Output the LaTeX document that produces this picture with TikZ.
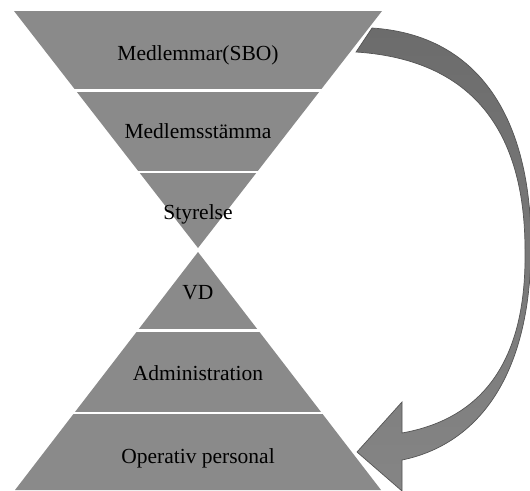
\documentclass[tikz,border=0pt]{standalone}
\usepackage{fontspec}
\setmainfont{Liberation Serif}
\definecolor{pyr}{HTML}{8A8A8A}
\definecolor{pilmork}{HTML}{6C6C6C}
\definecolor{pilljus}{HTML}{858585}
\definecolor{pilkant}{HTML}{555555}
\tikzset{
  skarv/.style={white,line width=2.5pt},
  etikett/.style={anchor=base,text=black,font=\fontsize{21.5}{24}\selectfont},
}
\begin{document}
\begin{tikzpicture}[x=1pt,y=-1pt]
\useasboundingbox (0,0) rectangle (530,490);
% the two triangles
\fill[pyr] (14,11)--(382,11)--(198,248)--cycle;
\fill[pyr] (198,252)--(381,490)--(15,490)--cycle;
\draw[skarv] (70,90.5)--(326,90.5) (130,172)--(266,172);
\draw[skarv] (130,330.5)--(266,330.5) (70,413)--(326,413);
% labels
\foreach \y/\t/\n in {60/Medlemmar(SBO)/medlemmar,138.5/Medlemsstämma/stamma,
  219.5/Styrelse/styrelse,299/VD/vd,380/Administration/admin,463/Operativ personal/operativ}
  \node[etikett] (\n) at (198,\y) {\t};
% curved arrow
\shadedraw[top color=pilmork,bottom color=pilljus,draw=pilkant,line width=.7pt,line join=miter]
  (372,28) .. controls (480,35) and (531,120) .. (531,245)
  .. controls (531,380) and (475,445) .. (402,460)
  -- (402,491) -- (357,452) -- (402,402) -- (402,433)
  .. controls (475,420) and (527,370) .. (525,250)
  .. controls (525,140) and (480,60) .. (356,52) -- cycle;
\end{tikzpicture}
\end{document}
